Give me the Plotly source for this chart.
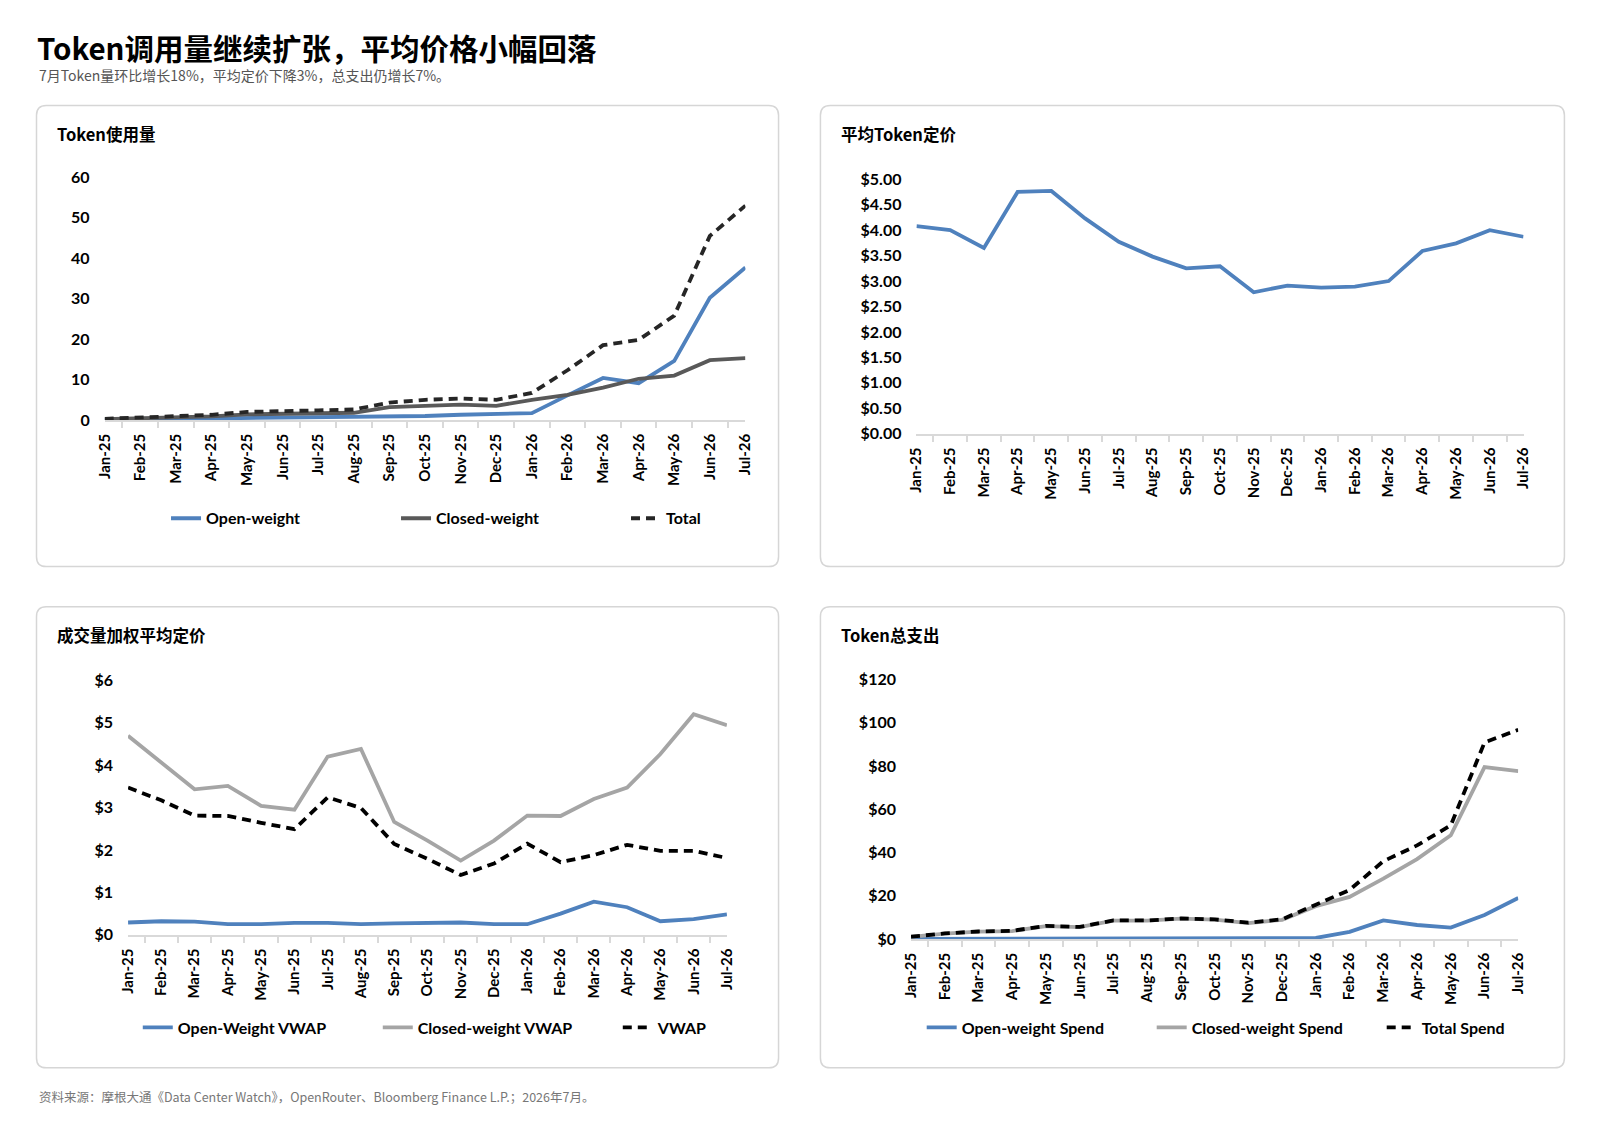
import plotly.graph_objects as go

# Target canvas 1620x1132; the page adds an 8px body margin, so the figure is drawn 16px smaller
W, H = 1620, 1132
M = 8
FW, FH = W - 2 * M, H - 2 * M

months = ["Jan-25", "Feb-25", "Mar-25", "Apr-25", "May-25", "Jun-25", "Jul-25", "Aug-25", "Sep-25",
          "Oct-25", "Nov-25", "Dec-25", "Jan-26", "Feb-26", "Mar-26", "Apr-26", "May-26", "Jun-26", "Jul-26"]

# Token usage
usage_open = [0.1, 0.2, 0.3, 0.4, 0.5, 0.5, 0.7, 0.8, 0.8, 1.0, 1.3, 1.4, 1.7, 6.1, 10.4, 9.1, 14.6, 30.2, 37.7]
usage_closed = [0.2, 0.4, 0.6, 0.9, 1.4, 1.6, 1.7, 1.8, 3.2, 3.6, 3.8, 3.5, 5.0, 6.2, 8.0, 10.2, 11.0, 14.8, 15.3]
usage_total = [0.3, 0.6, 0.9, 1.3, 2.0, 2.1, 2.4, 2.6, 4.3, 5.0, 5.3, 5.0, 6.7, 12.3, 18.5, 19.8, 25.8, 45.5, 53.0]

# Average token price
avg_price = [4.08, 4.00, 3.65, 4.75, 4.77, 4.23, 3.77, 3.48, 3.25, 3.29, 2.78, 2.91, 2.87, 2.89, 3.00, 3.59, 3.74, 4.00, 3.87]

# VWAP
vwap_open = [0.29, 0.32, 0.31, 0.25, 0.25, 0.28, 0.28, 0.25, 0.27, 0.27, 0.29, 0.25, 0.25, 0.50, 0.78, 0.65, 0.32, 0.37, 0.48]
vwap_closed = [4.69, 4.05, 3.43, 3.51, 3.04, 2.95, 4.20, 4.38, 2.66, 2.22, 1.75, 2.22, 2.81, 2.80, 3.20, 3.47, 4.26, 5.20, 4.94]
vwap_total = [3.47, 3.17, 2.81, 2.80, 2.64, 2.49, 3.24, 2.99, 2.14, 1.79, 1.41, 1.68, 2.15, 1.71, 1.88, 2.12, 1.98, 1.98, 1.81]

# Spend
spend_open = [0.1, 0.1, 0.1, 0.1, 0.1, 0.1, 0.1, 0.1, 0.1, 0.1, 0.2, 0.2, 0.5, 3.3, 8.6, 6.5, 5.3, 11.1, 19.0]
spend_closed = [1.0, 2.5, 3.4, 3.7, 6.0, 5.5, 8.5, 8.5, 9.4, 9.0, 7.4, 8.9, 15.2, 19.5, 27.9, 37.0, 48.0, 79.5, 77.7]
spend_total = [1.1, 2.6, 3.5, 3.8, 6.1, 5.6, 8.6, 8.6, 9.5, 9.1, 7.6, 9.1, 15.9, 22.7, 36.0, 43.3, 52.6, 90.9, 96.8]

BLUE = "#4F81BD"
DARKGRAY = "#595959"
LIGHTGRAY = "#A5A5A5"
BLACK = "#000000"
FONT = "Lato, 'Noto Sans CJK SC', sans-serif"
CJK = "'Noto Sans CJK SC', Lato, sans-serif"


def px(x):
    return (x - M) / FW


def py(y):
    return 1 - (y - M) / FH


fig = go.Figure()

traces = [
    ("x", "y", usage_open, "Open-weight", BLUE, "solid", "legend", True),
    ("x", "y", usage_closed, "Closed-weight", DARKGRAY, "solid", "legend", True),
    ("x", "y", usage_total, "Total", "#262626", "9px,6px", "legend", True),
    ("x2", "y2", avg_price, "平均Token定价", BLUE, "solid", "legend", False),
    ("x3", "y3", vwap_open, "Open-Weight VWAP", BLUE, "solid", "legend2", True),
    ("x3", "y3", vwap_closed, "Closed-weight VWAP", LIGHTGRAY, "solid", "legend2", True),
    ("x3", "y3", vwap_total, "VWAP", BLACK, "9px,6px", "legend2", True),
    ("x4", "y4", spend_open, "Open-weight Spend", BLUE, "solid", "legend3", True),
    ("x4", "y4", spend_closed, "Closed-weight Spend", LIGHTGRAY, "solid", "legend3", True),
    ("x4", "y4", spend_total, "Total Spend", BLACK, "9px,6px", "legend3", True),
]
for xa, ya, vals, name, color, dash, leg, show in traces:
    fig.add_trace(go.Scatter(x=months, y=vals, name=name, mode="lines", xaxis=xa, yaxis=ya,
                             line=dict(color=color, width=3.8, dash=dash),
                             legend=leg, showlegend=show))


def xaxis(domain, anchor):
    return dict(domain=domain, anchor=anchor, type="category", showline=True, linecolor="#D9D9D9",
                linewidth=1.5, ticks="outside", tickson="boundaries", ticklen=6, tickcolor="#D9D9D9",
                tickwidth=1.5, tickangle=-90, showgrid=False, zeroline=False,
                tickfont=dict(family=FONT, size=15, color="#000000", weight="bold"),
                ticklabelstandoff=6, fixedrange=True)


def yaxis(domain, anchor, rng, dtick, prefix="", fmt=None):
    d = dict(domain=domain, anchor=anchor, range=rng, dtick=dtick, tick0=0, showline=False,
             showgrid=False, zeroline=False, ticks="", tickprefix=prefix,
             tickfont=dict(family=FONT, size=16, color="#000000", weight="bold"),
             ticklabelstandoff=14, fixedrange=True)
    if fmt:
        d["tickformat"] = fmt
    return d


legfont = dict(family=FONT, size=16, color="#000000", weight="bold")
fig.update_layout(
    width=FW, height=FH, margin=dict(l=0, r=0, t=0, b=0),
    paper_bgcolor="white", plot_bgcolor="white",
    font=dict(family=FONT, color="#000000"),
    xaxis=xaxis([px(97), px(755)], "y"),
    yaxis=yaxis([py(417), py(170)], "x", [0, 60], 10),
    xaxis2=xaxis([px(930.6), px(1554)], "y2"),
    yaxis2=yaxis([py(431), py(172)], "x2", [0, 5], 0.5, "$", ".2f"),
    xaxis3=xaxis([px(121), px(736)], "y3"),
    yaxis3=yaxis([py(940.7), py(681.7)], "x3", [0, 6], 1, "$"),
    xaxis4=xaxis([px(925), px(1548.6)], "y4"),
    yaxis4=yaxis([py(945), py(681)], "x4", [0, 120], 20, "$"),
    legend=dict(orientation="h", x=px(160), y=py(517), xanchor="left", yanchor="middle",
                font=legfont, entrywidth=185, entrywidthmode="pixels", bgcolor="rgba(0,0,0,0)"),
    legend2=dict(orientation="h", x=px(131), y=py(1035), xanchor="left", yanchor="middle",
                 font=legfont, entrywidth=195, entrywidthmode="pixels", bgcolor="rgba(0,0,0,0)"),
    legend3=dict(orientation="h", x=px(936), y=py(1035), xanchor="left", yanchor="middle",
                 font=legfont, entrywidth=185, entrywidthmode="pixels", bgcolor="rgba(0,0,0,0)"),
)


def rrect(x0, y0, x1, y1, r=10):
    rx, ry = r / FW, r / FH
    X0, X1 = px(x0), px(x1)
    Y0, Y1 = py(y0), py(y1)  # Y0 top, Y1 bottom
    path = (f"M{X0+rx},{Y0} L{X1-rx},{Y0} Q{X1},{Y0} {X1},{Y0-ry} "
            f"L{X1},{Y1+ry} Q{X1},{Y1} {X1-rx},{Y1} L{X0+rx},{Y1} Q{X0},{Y1} {X0},{Y1+ry} "
            f"L{X0},{Y0-ry} Q{X0},{Y0} {X0+rx},{Y0} Z")
    return dict(type="path", path=path, xref="paper", yref="paper",
                line=dict(color="#D6D6D6", width=1.5), fillcolor="rgba(0,0,0,0)", layer="below")


panels = [(27, 97, 789, 566), (832, 97, 1596, 566), (27, 607, 789, 1076), (832, 607, 1596, 1076)]
fig.update_layout(shapes=[rrect(*p) for p in panels])

annots = [
    dict(text="<b>Token调用量继续扩张，平均价格小幅回落</b>", x=px(25), y=py(37), size=29.5, color="#000000"),
    dict(text="7月Token量环比增长18%，平均定价下降3%，总支出仍增长7%。", x=px(27), y=py(66), size=14, color="#555555"),
    dict(text="<b>Token使用量</b>", x=px(46), y=py(126), size=16.5, color="#000000"),
    dict(text="<b>平均Token定价</b>", x=px(851), y=py(126), size=16.5, color="#000000"),
    dict(text="<b>成交量加权平均定价</b>", x=px(46), y=py(636), size=16.5, color="#000000"),
    dict(text="<b>Token总支出</b>", x=px(851), y=py(636), size=16.5, color="#000000"),
    dict(text="资料来源：摩根大通《Data Center Watch》，OpenRouter、Bloomberg Finance L.P.；2026年7月。",
         x=px(27), y=py(1105), size=12.5, color="#777777"),
]
for a in annots:
    fig.add_annotation(text=a["text"], x=a["x"], y=a["y"], xref="paper", yref="paper",
                       xanchor="left", yanchor="middle", showarrow=False,
                       font=dict(family=CJK, size=a["size"], color=a["color"]))

fig.write_html("out.html")
